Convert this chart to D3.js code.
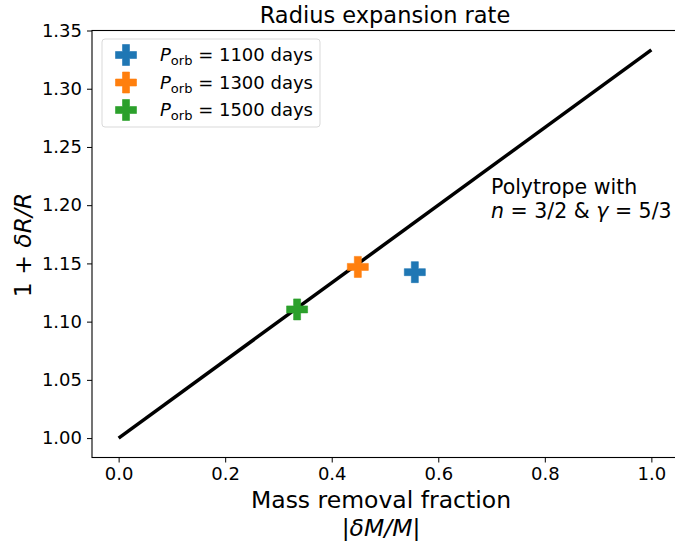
<!DOCTYPE html>
<html><head><meta charset="utf-8">
<script src="https://cdn.jsdelivr.net/npm/d3@7"></script>
<style>body{margin:0;background:#fff}text{font-family:"DejaVu Sans",sans-serif}</style>
</head><body><svg id="c" width="675" height="542"></svg>
<script>
const periods = [1100, 1300, 1500];
const massFrac = [0.556, 0.449, 0.335];
const radiusExp = [1.1425, 1.147, 1.1105];
const colors = ["#1f77b4", "#ff7f0e", "#2ca02c"];
const lineX = [0, 1];
const lineY = [1, 4/3];
const xTicks = [0, 0.2, 0.4, 0.6, 0.8, 1.0];
const yTicks = [1.00, 1.05, 1.10, 1.15, 1.20, 1.25, 1.30, 1.35];

const svg = d3.select("#c");
const L = 92, R = 678, T = 30.5, B = 457.5;
const x = d3.scaleLinear().domain([-0.05, 1.05]).range([L, R]);
const y = d3.scaleLinear().domain([0.98333, 1.35]).range([B, T]);

// axes
const xa = svg.append("g").attr("transform", `translate(0,${B})`)
  .call(d3.axisBottom(x).tickValues(xTicks).tickFormat(d3.format(".1f")).tickSizeOuter(0).tickSize(5).tickPadding(5));
const ya = svg.append("g").attr("transform", `translate(${L},0)`)
  .call(d3.axisLeft(y).tickValues(yTicks).tickFormat(d3.format(".2f")).tickSizeOuter(0).tickSize(5).tickPadding(5));
[xa, ya].forEach(a => {
  a.attr("font-size", null).attr("font-family", null);
  a.selectAll("text").style("font-size", "18px").attr("fill", "#000");
  a.selectAll("line").attr("stroke", "#000").attr("stroke-width", 1);
  a.select(".domain").remove();
});
// spines
svg.append("rect").attr("x", L).attr("y", T).attr("width", R - L).attr("height", B - T)
  .attr("fill", "none").attr("stroke", "#000").attr("stroke-width", 1.1);

// line
svg.append("path").datum(lineX.map((d, i) => [d, lineY[i]]))
  .attr("d", d3.line().x(d => x(d[0])).y(d => y(d[1])))
  .attr("stroke", "#000").attr("stroke-width", 3.5).attr("fill", "none");

// plus marker
function plus(s) {
  const a = s / 2, b = s / 6;
  return `M${-b},${-a}H${b}V${-b}H${a}V${b}H${b}V${a}H${-b}V${b}H${-a}V${-b}H${-b}Z`;
}
svg.selectAll("path.pt").data(massFrac).enter().append("path").attr("class", "pt")
  .attr("d", plus(21))
  .attr("transform", (d, i) => `translate(${x(d)},${y(radiusExp[i])})`)
  .attr("fill", (d, i) => colors[i]).attr("stroke", (d, i) => colors[i]).attr("stroke-opacity", 0.6).attr("stroke-width", 1);

// annotation
const ann = svg.append("text").attr("x", 491).attr("y", 194).attr("font-size", 20.5);
ann.append("tspan").attr("x", 491).text("Polytrope with");
const l2 = ann.append("tspan").attr("x", 491).attr("dy", 24);
l2.append("tspan").attr("font-style", "italic").text("n");
l2.append("tspan").text(" = 3/2 & ");
l2.append("tspan").attr("font-style", "italic").text("γ");
l2.append("tspan").text(" = 5/3");

// legend
const lg = svg.append("g");
lg.append("rect").attr("x", 102).attr("y", 39).attr("width", 218).attr("height", 88).attr("rx", 3)
  .attr("fill", "#fff").attr("fill-opacity", 0.8).attr("stroke", "#d9d9d9");
periods.forEach((p, i) => {
  const cy = 55 + i * 27.5;
  lg.append("path").attr("d", plus(21)).attr("transform", `translate(126,${cy})`)
    .attr("fill", colors[i]).attr("stroke", colors[i]).attr("stroke-opacity", 0.6);
  const t = lg.append("text").attr("x", 160).attr("y", cy + 6).attr("font-size", 18);
  t.append("tspan").attr("font-style", "italic").text("P");
  t.append("tspan").attr("font-size", 13).attr("dy", 4).text("orb");
  t.append("tspan").attr("dy", -4).text(" = " + p + " days");
});

// title & labels
svg.append("text").attr("x", (L + R) / 2).attr("y", 23).attr("text-anchor", "middle").attr("font-size", 22.5).text("Radius expansion rate");
svg.append("text").attr("x", 381).attr("y", 508).attr("text-anchor", "middle").attr("font-size", 23.5).text("Mass removal fraction");
const xl2 = svg.append("text").attr("x", 381).attr("y", 536).attr("text-anchor", "middle").attr("font-size", 23.5);
xl2.append("tspan").text("|");
xl2.append("tspan").attr("font-style", "italic").text("δM/M");
xl2.append("tspan").text("|");
const yl = svg.append("text").attr("transform", `translate(31,${245}) rotate(-90)`).attr("text-anchor", "middle").attr("font-size", 23.5);
yl.append("tspan").text("1 + ");
yl.append("tspan").attr("font-style", "italic").text("δR/R");
</script></body></html>
